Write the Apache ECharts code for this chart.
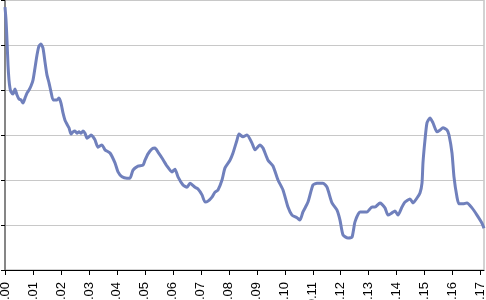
<!DOCTYPE html>
<html>
<head>
<meta charset="utf-8">
<script src="https://cdn.jsdelivr.net/npm/echarts@6/dist/echarts.min.js"></script>
<style>html,body{margin:0;padding:0;background:#fff}#c{width:486px;height:300px}</style>
</head>
<body>
<div id="c"></div>
<script>
var xValues = [0,0.00036,0.00071,0.00107,0.00143,0.00179,0.00214,0.00286,0.00357,0.00429,0.00500,0.00572,0.00643,0.00715,0.00786,0.00858,0.00929,0.01001,0.01072,0.01144,0.01215,0.01287,0.01358,0.01430,0.01501,0.01573,0.01644,0.01716,0.01787,0.01858,0.01930,0.02001,0.02073,0.02144,0.02216,0.02287,0.02359,0.02430,0.02502,0.02573,0.02645,0.02716,0.02788,0.02859,0.02931,0.03002,0.03074,0.03145,0.03217,0.03324,0.03467,0.03574,0.03753,0.03931,0.04039,0.04182,0.04360,0.04468,0.04575,0.04753,0.04932,0.05004,0.05111,0.05254,0.05361,0.05468,0.05611,0.05790,0.05969,0.06076,0.06183,0.06362,0.06505,0.06612,0.06790,0.06898,0.07041,0.07148,0.07255,0.07398,0.07505,0.07613,0.07756,0.07863,0.08041,0.08149,0.08292,0.08363,0.08506,0.08649,0.08828,0.08935,0.09114,0.09221,0.09400,0.09578,0.09757,0.09936,0.10114,0.10257,0.10436,0.10543,0.10650,0.10829,0.11008,0.11151,0.11365,0.11508,0.11687,0.11866,0.11973,0.12080,0.12259,0.12402,0.12509,0.12688,0.12938,0.13117,0.13224,0.13402,0.13581,0.13688,0.13831,0.13939,0.14046,0.14189,0.14296,0.14475,0.14582,0.14725,0.14832,0.14904,0.14939,0.15011,0.15082,0.15189,0.15297,0.15440,0.15547,0.15654,0.15797,0.15869,0.15976,0.16047,0.16154,0.16226,0.16369,0.16512,0.16690,0.16869,0.17048,0.17119];
var yValues = [5.84,5.56,5.11,4.56,4.22,4.04,3.96,3.91,4.02,3.89,3.80,3.78,3.71,3.82,3.93,4.00,4.09,4.22,4.49,4.78,4.98,5.02,4.93,4.62,4.33,4.16,3.96,3.78,3.78,3.78,3.82,3.71,3.49,3.33,3.24,3.16,3.02,3.07,3.09,3.04,3.07,3.04,3.09,3.04,2.93,2.96,3.00,2.96,2.89,2.73,2.78,2.67,2.60,2.38,2.18,2.07,2.04,2.04,2.22,2.31,2.33,2.44,2.58,2.69,2.71,2.62,2.49,2.31,2.18,2.24,2.07,1.89,1.84,1.93,1.84,1.80,1.67,1.51,1.53,1.62,1.73,1.78,2.00,2.27,2.44,2.60,2.89,3.02,2.96,3.00,2.82,2.67,2.78,2.71,2.44,2.31,2.00,1.78,1.40,1.22,1.16,1.11,1.29,1.51,1.89,1.93,1.93,1.84,1.49,1.33,1.11,0.78,0.71,0.73,1.07,1.29,1.29,1.40,1.40,1.49,1.38,1.22,1.27,1.31,1.22,1.40,1.51,1.58,1.49,1.60,1.71,1.93,2.38,2.89,3.27,3.38,3.27,3.07,3.11,3.16,3.11,3.00,2.60,2.07,1.62,1.47,1.47,1.49,1.38,1.22,1.04,0.93];
var xTicks = [0,0.01,0.02,0.03,0.04,0.05,0.06,0.07,0.08,0.09,0.10,0.11,0.12,0.13,0.14,0.15,0.16,0.17];

var seriesData = xValues.map(function(x,i){return [x,yValues[i]];});
var chart = echarts.init(document.getElementById('c'), null, {renderer:'canvas'});
chart.setOption({
  animation:false,
  grid:{left:5,right:2,top:0,bottom:30,containLabel:false,outerBoundsMode:'none',show:true,borderColor:'#a6a6a6',borderWidth:1},
  xAxis:{type:'value',min:0,max:0.1712,
    axisLine:{show:true,lineStyle:{color:'#000',width:1}},
    axisTick:{show:true,length:5,lineStyle:{color:'#000'},customValues:xTicks},
    axisLabel:{rotate:90,margin:12,fontSize:13,fontFamily:'Liberation Sans',color:'#000',customValues:xTicks,
      formatter:function(v){return v.toFixed(2);}},
    splitLine:{show:false}},
  yAxis:{type:'value',min:0,max:6,interval:1,
    axisLine:{show:true,lineStyle:{color:'#868686',width:2}},
    axisTick:{show:true,length:4,lineStyle:{color:'#000'}},
    axisLabel:{show:false},
    splitLine:{show:true,lineStyle:{color:'#c8c8c8',width:1}}},
  series:[{type:'line',data:seriesData,showSymbol:false,smooth:0.2,
    lineStyle:{color:'#7080bc',width:3},clip:true}]
});
</script>
</body>
</html>
